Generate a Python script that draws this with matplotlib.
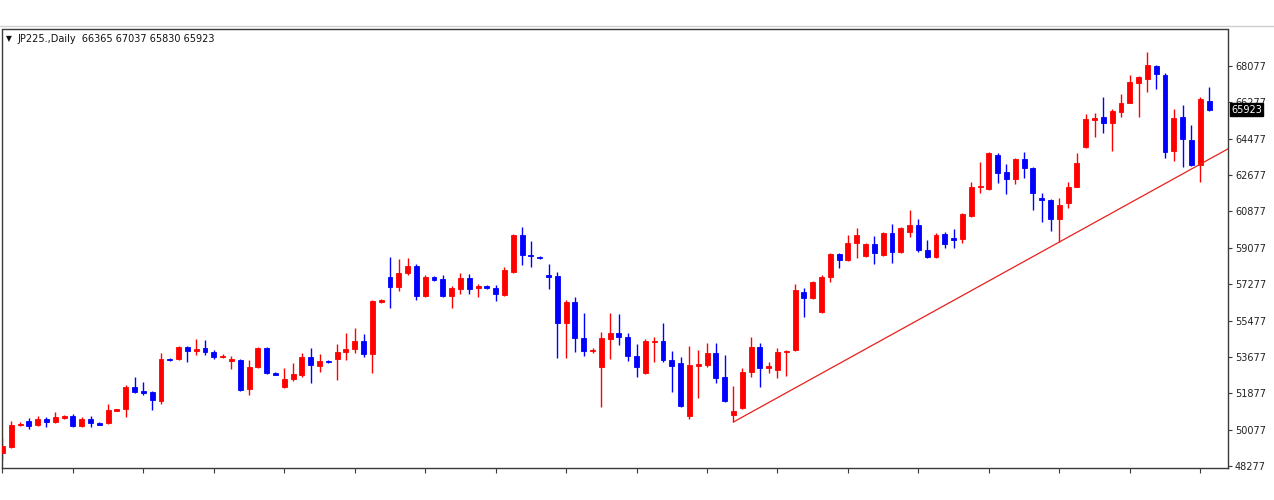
import matplotlib
matplotlib.use("Agg")
import matplotlib.pyplot as plt
import matplotlib.transforms as mtransforms
from matplotlib.lines import Line2D
import numpy as np

# ---- data (JP225 daily candles) ----
opens = [48920, 49218, 50282, 50505, 50307, 50604, 50455, 50653, 50752, 50257,
         50604, 50406, 50406, 51024, 51099, 52188, 51990, 51940, 51495, 53574,
         53574, 54168, 53970, 54118, 53920, 53673, 53475, 53524, 52089, 53178,
         54118, 52881, 52188, 52584, 52782, 53673, 53227, 53475, 53574, 53920,
         54069, 54465, 53821, 56395, 57633, 57138, 57831, 58177, 56692, 57633,
         57534, 56692, 57039, 57583, 57088, 57187, 57088, 56742, 57880, 59712,
         58722, 58623, 57732, 57682, 55356, 56395, 54613, 53970, 53178, 54564,
         54861, 54663, 53722, 52881, 54415, 54465, 53524, 53376, 50752, 53227,
         53277, 53871, 52683, 50802, 51148, 52930, 54168, 53128, 53029, 53920,
         54019, 56890, 56593, 55900, 57633, 58771, 58474, 59316, 58672, 59266,
         58722, 59811, 58870, 59860, 60207, 58969, 58623, 59761, 59563, 59514,
         60652, 62088, 61989, 63672, 62830, 62484, 63474, 63028, 61543, 61444,
         60504, 61296, 62088, 64068, 65404, 65553, 65256, 65800, 66246, 67236,
         67434, 68077, 67632, 63870, 65553, 64414, 63177, 66365]
highs = [49663, 50505, 50455, 50653, 50752, 50703, 50950, 50802, 50851, 50703,
         50752, 50455, 51346, 51123, 52287, 52683, 52435, 51990, 53871, 53600,
         54217, 54217, 54564, 54514, 54019, 53797, 53722, 53574, 53524, 54168,
         54168, 52906, 53128, 53376, 53871, 54118, 53821, 53500, 54316, 54861,
         55108, 54811, 56470, 56519, 58623, 58524, 58573, 58276, 57732, 57682,
         57732, 57187, 57831, 57781, 57286, 57237, 57237, 58128, 59761, 60108,
         59415, 58672, 58276, 57880, 56494, 56643, 55851, 54118, 54910, 55851,
         55801, 54861, 54316, 54564, 54663, 55356, 53970, 53673, 54217, 54019,
         54366, 54366, 53772, 52237, 53128, 54663, 54366, 53425, 54118, 53995,
         57286, 57088, 57435, 57732, 58821, 58821, 59712, 60058, 59316, 59662,
         59860, 60256, 60108, 60949, 60504, 59464, 59811, 59860, 60009, 60776,
         62335, 63325, 63796, 63771, 63226, 63499, 63820, 63078, 61791, 61469,
         61543, 62335, 63771, 65701, 65751, 66543, 65949, 66691, 67632, 67582,
         68770, 68127, 67731, 65949, 66147, 65157, 66543, 67037]
lows = [48574, 49168, 50257, 50109, 50257, 50208, 50406, 50628, 50208, 50208,
        50208, 50307, 50356, 51000, 50703, 51891, 51792, 51049, 51346, 53475,
        53524, 53425, 53772, 53772, 53574, 53623, 53079, 51990, 51792, 53128,
        52831, 52757, 52138, 52485, 52683, 52386, 52930, 53400, 52534, 53524,
        53871, 53673, 52881, 56370, 56098, 56940, 57732, 56494, 56643, 57435,
        56643, 56098, 56791, 56791, 56643, 57039, 56445, 56692, 57831, 58227,
        58128, 58524, 57039, 53623, 53623, 53920, 53722, 53871, 51198, 53574,
        54267, 53475, 52683, 52831, 53425, 53425, 51940, 51198, 50604, 51643,
        53178, 52386, 51445, 50455, 51099, 52683, 52188, 52881, 52633, 52732,
        53970, 55653, 56544, 55851, 57385, 58078, 58425, 58573, 58623, 58276,
        58672, 58326, 58821, 59613, 58870, 58573, 58573, 59068, 59068, 59316,
        60603, 61791, 61939, 62286, 61741, 62236, 62533, 60949, 60355, 59910,
        59365, 61048, 62063, 64018, 64563, 64761, 63870, 65553, 66221, 65553,
        66790, 66939, 63523, 63375, 63078, 63127, 62335, 65830]
closes = [49267, 50307, 50356, 50257, 50604, 50455, 50703, 50752, 50257, 50604,
          50406, 50331, 51049, 51099, 52188, 51940, 51891, 51544, 53574, 53500,
          54168, 53970, 54069, 53920, 53673, 53722, 53574, 52039, 53178, 54118,
          52881, 52782, 52584, 52831, 53673, 53277, 53475, 53425, 53920, 54069,
          54465, 53821, 56445, 56494, 57138, 57831, 58177, 56692, 57633, 57484,
          56692, 57088, 57583, 57039, 57187, 57088, 56791, 57979, 59712, 58722,
          58672, 58573, 57633, 55356, 56395, 54613, 53970, 54019, 54613, 54861,
          54663, 53722, 53178, 54465, 54465, 53524, 53227, 51247, 53277, 53326,
          53871, 52633, 51495, 51000, 52930, 54168, 53128, 53227, 53920, 53970,
          56989, 56593, 57385, 57633, 58771, 58474, 59316, 59712, 59266, 58821,
          59811, 58870, 60058, 60207, 58969, 58623, 59712, 59266, 59464, 60751,
          62088, 62137, 63771, 62781, 62484, 63474, 63028, 61791, 61444, 60504,
          61197, 62088, 63276, 65454, 65503, 65256, 65850, 66246, 67285, 67533,
          68127, 67681, 63820, 65503, 64464, 63177, 66444, 65923]

symbol_label = "JP225.,Daily"
last_ohlc = ["66365", "67037", "65830", "65923"]
price_ticks = [48277, 50077, 51877, 53677, 55477, 57277, 59077, 60877,
               62677, 64477, 66277, 68077]
trend_anchor_idx = [83, 120]          # candles whose lows define the trend line
bar_tick_step = 8

UP = "#ff0000"
DOWN = "#0000ff"

n = len(opens)
idx = np.arange(n)
o = np.array(opens, float)
h = np.array(highs, float)
l = np.array(lows, float)
c = np.array(closes, float)
up = c >= o
cols = np.where(up, UP, DOWN)

fig = plt.figure(figsize=(12.74, 5.0), dpi=100)
fig.patch.set_facecolor("white")
# window border line above the chart
fig.add_artist(Line2D([0, 1], [1 - 25.5 / 500] * 2, color="#cfcfcf",
                      linewidth=1.0, transform=fig.transFigure))

ax = fig.add_axes([2 / 1274, 32 / 500, 1226 / 1274, 438.5 / 500])
ax.set_facecolor("white")

# wicks
ax.vlines(idx, l, h, colors=cols, linewidth=1.0, zorder=2)
# bodies
bottoms = np.minimum(o, c)
heights = np.maximum(np.abs(c - o), 1.0)
ax.bar(idx, heights, bottom=bottoms, width=0.56, color=cols,
       edgecolor=cols, linewidth=0.6, zorder=3)

# trend line through two lows, extended to the right edge
i0, i1 = trend_anchor_idx
slope = (l[i1] - l[i0]) / (i1 - i0)
x_end = n + 1.2
ax.plot([i0, x_end], [l[i0], l[i0] + slope * (x_end - i0)],
        color="#e8201c", linewidth=0.9, zorder=4, clip_on=True)

ax.set_xlim(-0.05, n + 1.15)
ax.set_ylim(48178, 69884)

# axes styling
for s in ax.spines.values():
    s.set_color("#3a3a3a")
    s.set_linewidth(1.0)
ax.yaxis.tick_right()
ax.set_yticks(price_ticks)
ax.set_yticklabels([str(v) for v in price_ticks])
ax.tick_params(axis="y", direction="out", length=3, width=0.8, colors="#3a3a3a",
               labelsize=7, labelcolor="#222222", pad=2)
ax.set_xticks(np.arange(0, n, bar_tick_step))
ax.set_xticklabels([])
ax.tick_params(axis="x", direction="out", length=3.5, width=0.8, colors="#3a3a3a")

# current price box (covers part of the 66277 label, as in the terminal)
trans = mtransforms.blended_transform_factory(ax.transAxes, ax.transData)
ax.text(1.0025, c[-1], f"{int(c[-1])}", transform=trans, ha="left", va="center",
        color="white", fontsize=7, zorder=10, clip_on=False,
        bbox=dict(boxstyle="square,pad=0.15", facecolor="black", edgecolor="black"))

# header text
ax.text(0.003, 0.979, "\u25BC", transform=ax.transAxes, ha="left", va="center",
        fontsize=5.5, color="#111111")
ax.text(0.0125, 0.979, symbol_label + "  " + " ".join(last_ohlc),
        transform=ax.transAxes, ha="left", va="center", fontsize=7, color="#111111")

fig.savefig("out.png", dpi=100, facecolor="white")
